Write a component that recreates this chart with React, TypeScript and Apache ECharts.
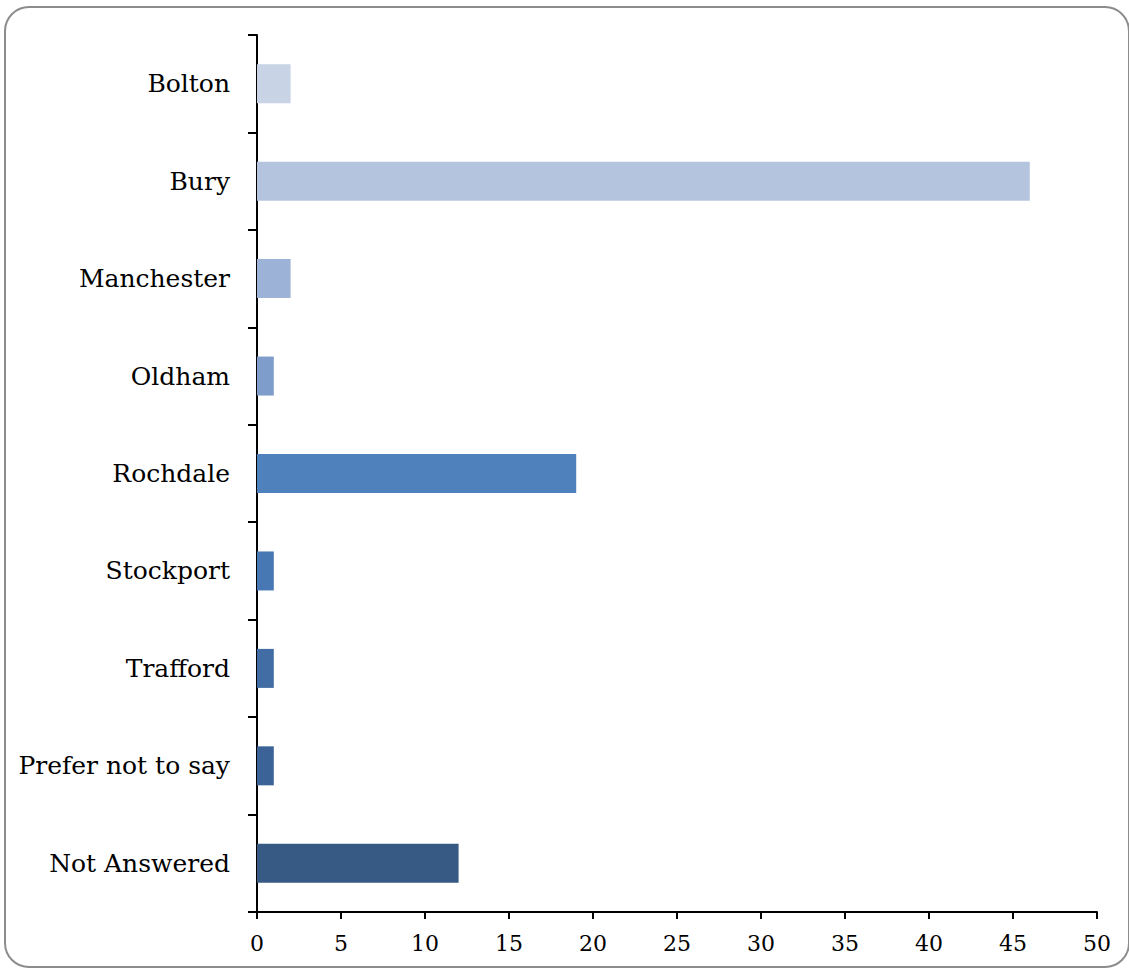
import React, { useEffect, useRef } from "react";
import * as echarts from "echarts";

const categories = ["Bolton", "Bury", "Manchester", "Oldham", "Rochdale", "Stockport", "Trafford", "Prefer not to say", "Not Answered"];
const values = [2, 46, 2, 1, 19, 1, 1, 1, 12];
const colors = ["#c9d3e6", "#b4c4df", "#9cb2d6", "#7f9dcb", "#4f81bd", "#4778b4", "#416ca4", "#3c6398", "#365a84"];
const xTicks = { min: 0, max: 50, interval: 5 };

export default function App() {
  const ref = useRef<HTMLDivElement>(null);
  useEffect(() => {
    document.body.style.margin = "0";
    const chart = echarts.init(ref.current!, undefined, { renderer: "svg" });
    chart.setOption({
      animation: false,
      backgroundColor: "#ffffff",
      graphic: [
        {
          type: "rect",
          shape: { x: 5, y: 7, width: 1124, height: 960, r: 24 },
          style: { fill: "none", stroke: "#8c8c8c", lineWidth: 2 },
          z: -1,
        },
      ],
      grid: { left: 257, right: 32, top: 35, bottom: 57, containLabel: false },
      xAxis: {
        type: "value",
        min: xTicks.min,
        max: xTicks.max,
        interval: xTicks.interval,
        axisLine: { show: true, lineStyle: { color: "#000", width: 2 } },
        axisTick: { show: true, length: 7, lineStyle: { color: "#000", width: 2 } },
        splitLine: { show: false },
        axisLabel: { color: "#000", fontFamily: "DejaVu Serif", fontSize: 22, margin: 20 },
      },
      yAxis: {
        type: "category",
        inverse: true,
        data: categories,
        axisLine: { show: true, lineStyle: { color: "#000", width: 2 } },
        axisTick: { show: true, length: 9, lineStyle: { color: "#000", width: 2 } },
        axisLabel: { color: "#000", fontFamily: "DejaVu Serif", fontSize: 25, margin: 27, padding: [6, 0, 0, 0] },
      },
      series: [
        {
          type: "bar",
          barWidth: 39,
          data: values.map((v, i) => ({ value: v, itemStyle: { color: colors[i] } })),
        },
      ],
    });
    return () => chart.dispose();
  }, []);
  return <div ref={ref} style={{ width: 1129, height: 969 }} />;
}
